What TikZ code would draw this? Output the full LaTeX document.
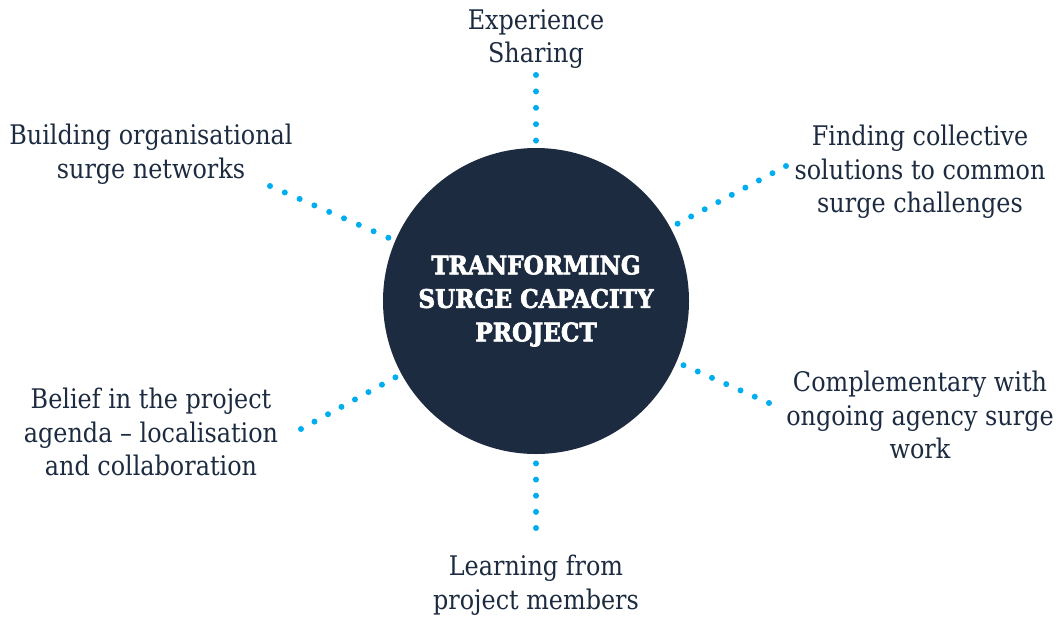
\documentclass[tikz,border=0pt]{standalone}
\usepackage{fontspec}
\setmainfont[FakeStretch=0.885]{DejaVu Serif}
\newfontfamily\titlefont[FakeStretch=0.91,FakeBold=2.6]{DejaVu Serif}
\definecolor{navy}{HTML}{1C2B40}
\definecolor{dotcyan}{HTML}{00AEEF}
\begin{document}
\begin{tikzpicture}[x=1pt,y=-1pt,
  lbl/.style={align=center, inner sep=0pt, text=navy, font=\fontsize{27}{33.5}\selectfont},
  hub/.style={circle, fill=navy, minimum size=306pt, inner sep=0pt, text=white, align=center,
     font=\titlefont\bfseries\fontsize{25.5}{33.5}\selectfont},
  dotline/.style={draw=dotcyan, line width=6pt, line cap=round, dash pattern=on 0pt off #1}]
\useasboundingbox (0,0) rectangle (1059,616);
\node[hub] (hub) at (536,301) {TRANFORMING\\SURGE CAPACITY\\PROJECT};
\node[lbl] (top) at (536,39) {Experience\\Sharing};
\node[lbl] (ul) at (151,154) {Building organisational\\surge networks};
\node[lbl] (ur) at (920,172) {Finding collective\\solutions to common\\surge challenges};
\node[lbl] (ll) at (151,432) {Belief in the project\\agenda – localisation\\and collaboration};
\node[lbl] (lr) at (920,415) {Complementary with\\ongoing agency surge\\work};
\node[lbl] (bot) at (536,585) {Learning from\\project members};
\coordinate (t1) at (536,75);  \coordinate (t2) at (536,141);
\coordinate (a1) at (270,186); \coordinate (a2) at (389,238);
\coordinate (b1) at (786,166); \coordinate (b2) at (677,224);
\coordinate (c1) at (301,429); \coordinate (c2) at (396,377);
\coordinate (d1) at (769,403); \coordinate (d2) at (683,365);
\coordinate (e1) at (536,528); \coordinate (e2) at (536,463);
\draw[dotline=16.4pt] (t1) -- (t2);
\draw[dotline=16.15pt] (a1) -- (a2);
\draw[dotline=15.35pt] (b1) -- (b2);
\draw[dotline=15.38pt] (c1) -- (c2);
\draw[dotline=15.58pt] (d1) -- (d2);
\draw[dotline=16.15pt] (e1) -- (e2);
\end{tikzpicture}
\end{document}
